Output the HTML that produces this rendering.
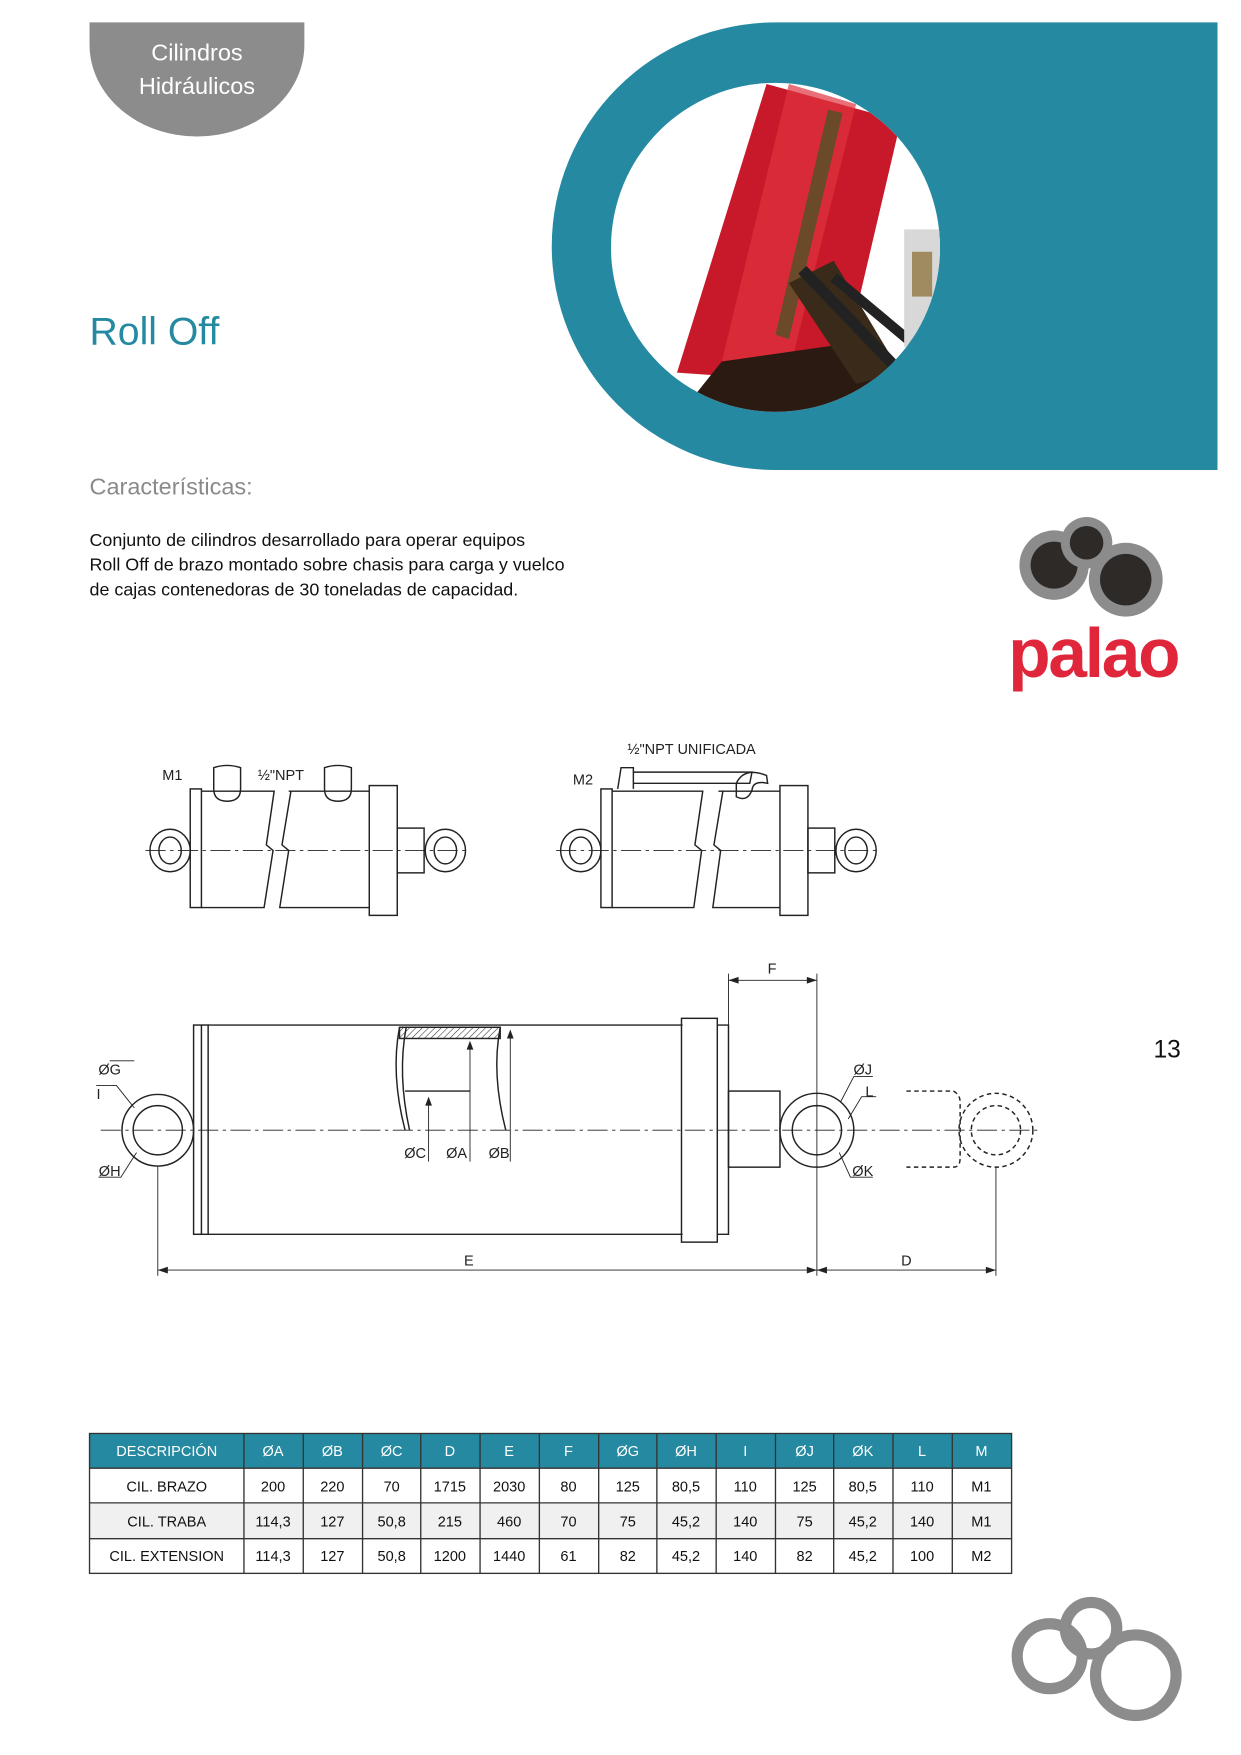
<!DOCTYPE html>
<html><head><meta charset="utf-8"><style>
html,body{margin:0;padding:0;background:#fff}
svg{display:block}
text{font-family:"Liberation Sans",sans-serif}
</style></head><body>
<svg width="1241" height="1755" viewBox="0 0 1109 1568.3" xmlns="http://www.w3.org/2000/svg">
<defs>
<clipPath id="pc"><circle cx="693" cy="221" r="147"/></clipPath>
<pattern id="hat" width="4" height="4" patternUnits="userSpaceOnUse" patternTransform="rotate(45)"><line x1="0" y1="0" x2="0" y2="4" stroke="#333" stroke-width="1"/></pattern>
</defs>
<path d="M80 20 H272 V40 A96 82 0 0 1 80 40 Z" fill="#8c8c8d"/>
<text x="176" y="54" font-size="21" fill="#fff" text-anchor="middle">Cilindros</text>
<text x="176" y="84" font-size="21" fill="#fff" text-anchor="middle">Hidráulicos</text>
<path d="M693 20 H1088 V420 H693 A200 200 0 0 1 693 20 Z" fill="#258aa1"/>
<circle cx="693" cy="221" r="147" fill="#fff"/>
<g clip-path="url(#pc)">
<polygon points="685,75 805,108 750,343 605,333" fill="#c8192a"/>
<polygon points="705,75 765,93 705,333 645,323" fill="#e0323f" opacity="0.7"/>
<polygon points="740,98 753,101 705,303 693,299" fill="#6b4a2a"/>
<polygon points="645,323 785,303 835,373 605,373" fill="#2a1a12"/>
<polygon points="705,253 745,233 805,333 765,343" fill="#3a2a1a"/>
<line x1="717" y1="241" x2="805" y2="333" stroke="#222" stroke-width="10"/>
<line x1="745" y1="248" x2="835" y2="323" stroke="#222" stroke-width="9"/>
<rect x="808" y="205" width="40" height="105" fill="#d8d8d8"/>
<rect x="815" y="225" width="18" height="40" fill="#a08a60"/>
</g>
<text x="80" y="308" font-size="35" fill="#258aa1">Roll Off</text>
<text x="80" y="442" font-size="21" fill="#8a8a8a">Características:</text>
<text font-size="16" fill="#111"><tspan x="80" y="488">Conjunto de cilindros desarrollado para operar equipos</tspan><tspan x="80" y="510">Roll Off de brazo montado sobre chasis para carga y vuelco</tspan><tspan x="80" y="532">de cajas contenedoras de 30 toneladas de capacidad.</tspan></text>
<circle cx="942" cy="505" r="31" fill="#8c8c8d"/><circle cx="942" cy="505" r="21" fill="#2d2a28"/>
<circle cx="971" cy="485" r="23" fill="#8c8c8d"/><circle cx="971" cy="485" r="15" fill="#2d2a28"/>
<circle cx="1006" cy="518" r="33" fill="#8c8c8d"/><circle cx="1006" cy="518" r="23" fill="#2d2a28"/>
<text x="977" y="605" font-size="62" font-weight="bold" fill="#e0263a" text-anchor="middle" letter-spacing="-2">palao</text>
<text x="1043" y="945" font-size="22" fill="#111" text-anchor="middle">13</text>

<g fill="none" stroke="#222" stroke-width="1.3">
<rect x="170" y="705" width="10" height="106"/>
<path d="M180 707 H245 L238 755 L244 760 L236 811 H180"/>
<path d="M258 707 H330 M330 811 H250 L258 760 L252 755 L260 707"/>
<rect x="330" y="702" width="25" height="116"/>
<rect x="355" y="740" width="24" height="40"/>
<ellipse cx="152" cy="760" rx="18" ry="19"/><ellipse cx="152" cy="760" rx="10" ry="12"/>
<ellipse cx="398" cy="760" rx="18" ry="19"/><ellipse cx="398" cy="760" rx="10" ry="12"/>
<path d="M191 705 V686 Q203 682 215 686 V705 Q215 716 203 716 Q191 716 191 705"/>
<path d="M290 705 V686 Q302 682 314 686 V705 Q314 716 302 716 Q290 716 290 705"/>
<rect x="537" y="705" width="10" height="106"/>
<path d="M547 707 H628 L621 755 L627 760 L620 811 H547"/>
<path d="M642 707 H697 M697 811 H637 L644 760 L638 755 L646 707"/>
<rect x="697" y="702" width="25" height="116"/>
<rect x="722" y="740" width="24" height="40"/>
<ellipse cx="519" cy="760" rx="18" ry="19"/><ellipse cx="519" cy="760" rx="10" ry="12"/>
<ellipse cx="765" cy="760" rx="18" ry="19"/><ellipse cx="765" cy="760" rx="10" ry="12"/>
<path d="M552 705 L555 686 H566 V705"/>
<path d="M566 690 H672 L670 700 H566"/>
<path d="M658 700 Q665 685 685 693 L686 700 Q673 697 672 706 Q668 717 658 712 Z"/>
<rect x="173" y="916" width="13" height="187"/><line x1="180" y1="916" x2="180" y2="1103"/>
<path d="M186 916 H610 M186 1103 H610"/>
<rect x="609" y="910" width="32" height="200"/>
<path d="M641 916 H651 V1103 H641"/>
<rect x="651" y="975" width="46" height="68"/>
<circle cx="141" cy="1010" r="32"/><circle cx="141" cy="1010" r="22"/>
<circle cx="730" cy="1010" r="33"/><circle cx="730" cy="1010" r="22"/>
<g stroke-dasharray="4 3"><circle cx="890" cy="1010" r="33"/><circle cx="890" cy="1010" r="22"/>
<path d="M810 975 H852 Q858 978 858 985 V1035 Q858 1043 852 1043 H810"/></g>
<rect x="357" y="918" width="90" height="10" fill="url(#hat)"/>
<path d="M357 918 Q349 960 362 1010 M363 918 Q355 960 366 1010"/>
<path d="M447 918 Q439 960 452 1010"/>
<path d="M362 975 H420"/>
<path d="M90 1010 H930 M130 760 H420 M497 760 H785" stroke-width="0.8" stroke-dasharray="18 4 3 4"/>
<g stroke-width="0.8">
<path d="M383 1038 V982 M420 1038 V932 M456 1038 V922"/>
<path d="M651 870 V975 M730 870 V1140 M141 1042 V1140 M890 1043 V1140"/>
<path d="M651 876 H730 M141 1135 H730 M730 1135 H890"/>
<path d="M120 948 L98 948 M120 990 L104 970 L86 970 M122 1030 L108 1052 L88 1052"/>
<path d="M751 985 L763 962 L780 962 M758 1000 L770 980 L783 980 M750 1030 L760 1052 L780 1052"/>
</g>
</g>
<g fill="#222">
<path d="M383 980 l-3 8 h6z M420 930 l-3 8 h6z M456 920 l-3 8 h6z"/>
<path d="M651 876 l9 -3 v6z M730 876 l-9 -3 v6z M141 1135 l9 -3 v6z M730 1135 l-9 -3 v6z M730 1135 l9 -3 v6z M890 1135 l-9 -3 v6z"/>
</g>
<g font-size="13" fill="#222" text-anchor="middle">
<text x="154" y="697">M1</text><text x="251" y="697">½"NPT</text>
<text x="618" y="674">½"NPT UNIFICADA</text><text x="521" y="701">M2</text>
<text x="690" y="870">F</text><text x="419" y="1131">E</text><text x="810" y="1131">D</text>
<text x="98" y="960">ØG</text><text x="88" y="982">I</text><text x="98" y="1051">ØH</text>
<text x="771" y="960">ØJ</text><text x="777" y="980">L</text><text x="771" y="1051">ØK</text>
<text x="371" y="1035">ØC</text><text x="408" y="1035">ØA</text><text x="446" y="1035">ØB</text>
</g>
<rect x="80" y="1281" width="824" height="31" fill="#258aa1"/>
<rect x="80" y="1343" width="824" height="32" fill="#f0f0f0"/>
<g stroke="#333" stroke-width="1.2" fill="none">
<rect x="80" y="1281" width="824" height="125"/>
<path d="M80 1312 H904 M80 1343 H904 M80 1375 H904"/>
<path d="M218 1281 V1406 M271 1281 V1406 M324 1281 V1406 M376 1281 V1406 M429 1281 V1406 M482 1281 V1406 M535 1281 V1406 M587 1281 V1406 M640 1281 V1406 M693 1281 V1406 M745 1281 V1406 M798 1281 V1406 M851 1281 V1406"/>
</g>
<g font-size="13" text-anchor="middle" fill="#fff">
<text x="149" y="1301">DESCRIPCIÓN</text><text x="244" y="1301">ØA</text><text x="297" y="1301">ØB</text><text x="350" y="1301">ØC</text><text x="402" y="1301">D</text><text x="455" y="1301">E</text><text x="508" y="1301">F</text><text x="561" y="1301">ØG</text><text x="613" y="1301">ØH</text><text x="666" y="1301">I</text><text x="719" y="1301">ØJ</text><text x="771" y="1301">ØK</text><text x="824" y="1301">L</text><text x="877" y="1301">M</text>
</g>
<g font-size="13" text-anchor="middle" fill="#111">
<text x="149" y="1333">CIL. BRAZO</text><text x="244" y="1333">200</text><text x="297" y="1333">220</text><text x="350" y="1333">70</text><text x="402" y="1333">1715</text><text x="455" y="1333">2030</text><text x="508" y="1333">80</text><text x="561" y="1333">125</text><text x="613" y="1333">80,5</text><text x="666" y="1333">110</text><text x="719" y="1333">125</text><text x="771" y="1333">80,5</text><text x="824" y="1333">110</text><text x="877" y="1333">M1</text>
<text x="149" y="1364">CIL. TRABA</text><text x="244" y="1364">114,3</text><text x="297" y="1364">127</text><text x="350" y="1364">50,8</text><text x="402" y="1364">215</text><text x="455" y="1364">460</text><text x="508" y="1364">70</text><text x="561" y="1364">75</text><text x="613" y="1364">45,2</text><text x="666" y="1364">140</text><text x="719" y="1364">75</text><text x="771" y="1364">45,2</text><text x="824" y="1364">140</text><text x="877" y="1364">M1</text>
<text x="149" y="1395">CIL. EXTENSION</text><text x="244" y="1395">114,3</text><text x="297" y="1395">127</text><text x="350" y="1395">50,8</text><text x="402" y="1395">1200</text><text x="455" y="1395">1440</text><text x="508" y="1395">61</text><text x="561" y="1395">82</text><text x="613" y="1395">45,2</text><text x="666" y="1395">140</text><text x="719" y="1395">82</text><text x="771" y="1395">45,2</text><text x="824" y="1395">100</text><text x="877" y="1395">M2</text>
</g>
<g fill="none" stroke="#8c8c8d" stroke-width="10">
<circle cx="938" cy="1480" r="29"/><circle cx="975" cy="1455" r="23"/><circle cx="1015" cy="1497" r="36"/>
</g>
</svg>
</body></html>
